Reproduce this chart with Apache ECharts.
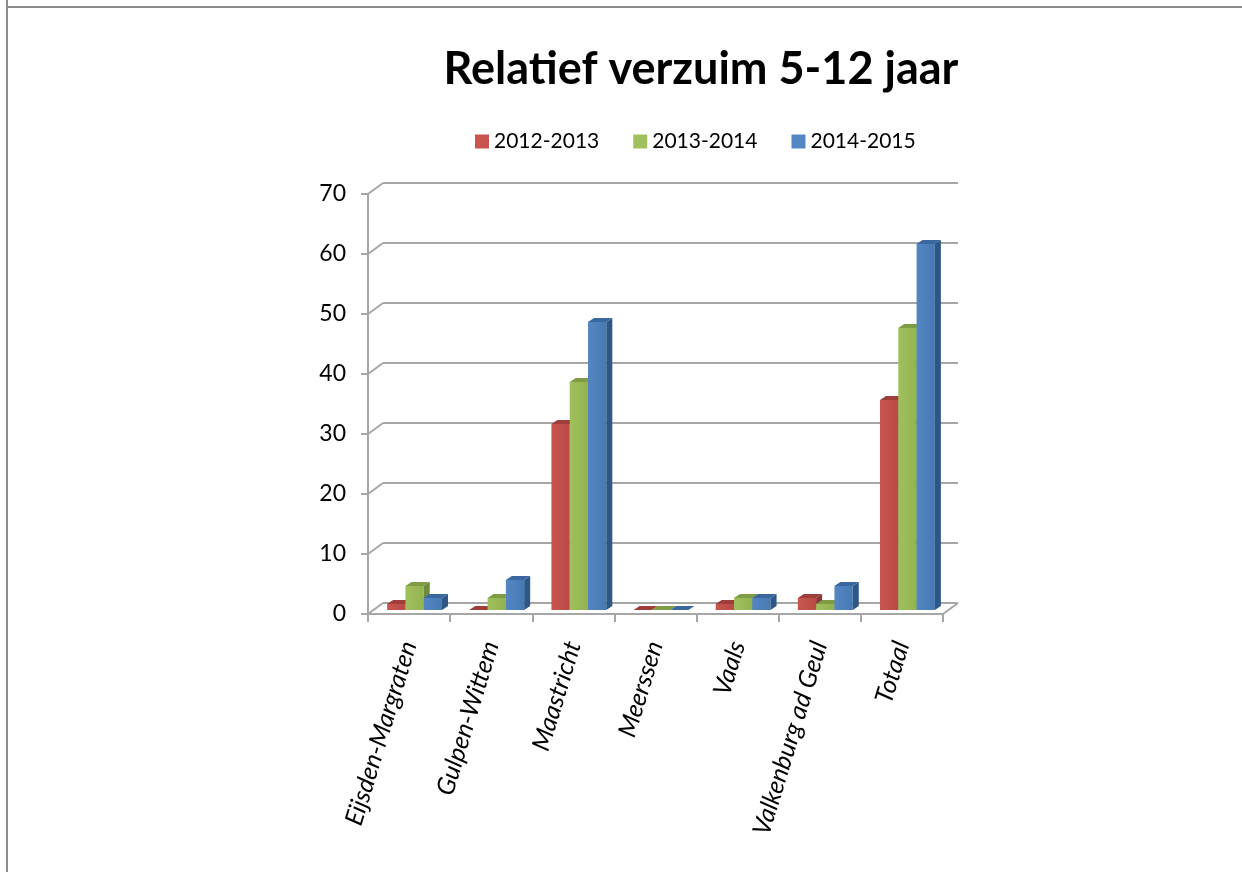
<!doctype html>
<html>
<head>
    <meta charset="UTF-8">
    <title>Relatief verzuim 5-12 jaar</title>
    <script src="https://cdn.jsdelivr.net/npm/echarts@6/dist/echarts.min.js"></script>
    <style>
        html, body { margin: 0; padding: 0; background: #fff; }
        #main { width: 1242px; height: 872px; }
    </style>
</head>
<body>
<div id="main"></div>
<script type="text/javascript">
    // data
    var gemeenten = ['Eijsden-Margraten', 'Gulpen-Wittem', 'Maastricht', 'Meerssen', 'Vaals', 'Valkenburg ad Geul', 'Totaal'];
    var jaren = ['2012-2013', '2013-2014', '2014-2015'];
    var v1213 = [1, 0, 31, 0, 1, 2, 35];
    var v1314 = [4, 2, 38, 0, 2, 1, 47];
    var v1415 = [2, 5, 48, 0, 2, 4, 61];
    var yTicks = [0, 10, 20, 30, 40, 50, 60, 70];

    var waarden = [v1213, v1314, v1415];
    // voorkant (licht, donker), zijkant, bovenkant
    var kleuren = [
        ['#C8554F', '#BA4A47', '#8A3532', '#9E3D3A'],
        ['#A0C05E', '#93B251', '#6E8A3A', '#7F9C45'],
        ['#5486C2', '#4779B5', '#2D5787', '#3A67A0']
    ];
    var gridKleur = '#a6a6a6';

    var myChart = echarts.init(document.getElementById('main'));

    var barW = 18.3;   // breedte van een staaf
    var depthX = 6, depthY = -4;  // diepte van de staaf
    var shiftX = 5.5, shiftY = -4; // staven staan iets naar achteren

    function barRenderer(s) {
        return function (params, api) {
            var cat = api.value(0);
            var val = api.value(1);
            var base = api.coord([cat, 0]);
            var top = api.coord([cat, val]);
            var x0 = base[0] - 1.5 * barW + s * barW + shiftX;
            var y0 = base[1] + shiftY;
            var y1 = top[1] + shiftY;
            var c = kleuren[s];
            var children = [];
            if (y0 - y1 > 0) {
                children.push({
                    type: 'rect',
                    shape: { x: x0, y: y1, width: barW, height: y0 - y1 },
                    style: {
                        fill: new echarts.graphic.LinearGradient(0, 0, 1, 0, [
                            { offset: 0, color: c[0] },
                            { offset: 1, color: c[1] }
                        ])
                    }
                });
            }
            children.push({
                type: 'polygon',
                shape: { points: [[x0 + barW, y0], [x0 + barW + depthX, y0 + depthY], [x0 + barW + depthX, y1 + depthY], [x0 + barW, y1]] },
                style: { fill: c[2] }
            });
            children.push({
                type: 'polygon',
                shape: { points: [[x0, y1], [x0 + depthX, y1 + depthY], [x0 + barW + depthX, y1 + depthY], [x0 + barW, y1]] },
                style: { fill: c[3] }
            });
            return { type: 'group', children: children };
        };
    }

    // schuine lijntjes tussen voor-as en achterwand
    function diagRenderer(params, api) {
        var v = api.value(0);
        var p = api.coord([0, v]);
        var left = p[0] - api.size([1, 0])[0] / 2;
        var children = [{
            type: 'line',
            shape: { x1: left, y1: p[1], x2: left + 15, y2: p[1] - 11 },
            style: { stroke: gridKleur, lineWidth: 2 }
        }];
        if (v === 0) {
            var r = api.coord([gemeenten.length - 1, 0]);
            var right = r[0] + api.size([1, 0])[0] / 2;
            children.push({
                type: 'line',
                shape: { x1: right, y1: r[1], x2: right + 15, y2: r[1] - 11 },
                style: { stroke: gridKleur, lineWidth: 2 }
            });
        }
        return { type: 'group', children: children };
    }

    var series = [];
    for (var s = 0; s < 3; s++) {
        series.push({
            name: jaren[s],
            type: 'custom',
            xAxisIndex: 0,
            yAxisIndex: 0,
            renderItem: barRenderer(s),
            itemStyle: { color: kleuren[s][0] },
            data: waarden[s].map(function (v, i) { return [i, v]; }),
            z: 5
        });
    }
    series.push({
        type: 'custom',
        xAxisIndex: 0,
        yAxisIndex: 0,
        renderItem: diagRenderer,
        data: yTicks.map(function (v) { return [v]; }),
        encode: { y: 0 },
        silent: true,
        z: 1
    });

    var option = {
        animation: false,
        backgroundColor: '#fff',
        textStyle: { fontFamily: 'Lato, "Open Sans", sans-serif' },
        title: {
            text: 'Relatief verzuim 5-12 jaar',
            left: 696,
            textAlign: 'center',
            top: 42,
            textStyle: { fontSize: 45, fontWeight: 'bold', color: '#000', fontFamily: 'Lato, "Open Sans", sans-serif' }
        },
        legend: {
            data: jaren,
            left: 475,
            top: 131,
            padding: 0,
            icon: 'rect',
            itemWidth: 14,
            itemHeight: 14,
            itemGap: 34,
            textStyle: { fontSize: 21, color: '#000' }
        },
        graphic: [
            { type: 'line', shape: { x1: 7, y1: 0, x2: 7, y2: 872 }, style: { stroke: '#8c8c8c', lineWidth: 2 } },
            { type: 'line', shape: { x1: 6, y1: 7, x2: 1242, y2: 7 }, style: { stroke: '#8c8c8c', lineWidth: 2 } }
        ],
        grid: [
            { left: 368, right: 299, top: 194, bottom: 258 },
            { left: 383, right: 284, top: 183, bottom: 269 }
        ],
        xAxis: [
            {
                type: 'category',
                gridIndex: 0,
                data: gemeenten,
                axisLine: { lineStyle: { color: gridKleur, width: 2 } },
                axisTick: { show: true, length: 8, lineStyle: { color: gridKleur, width: 2 } },
                axisLabel: {
                    rotate: 73,
                    margin: 28,
                    fontSize: 25,
                    fontStyle: 'italic',
                    color: '#000',
                    interval: 0
                },
                z: 3
            },
            {
                type: 'category',
                gridIndex: 1,
                data: gemeenten,
                show: false
            }
        ],
        yAxis: [
            {
                type: 'value',
                gridIndex: 0,
                min: 0,
                max: 70,
                interval: 10,
                axisLine: { show: true, lineStyle: { color: gridKleur, width: 2 } },
                axisTick: { show: true, length: 7, lineStyle: { color: gridKleur, width: 2 } },
                axisLabel: { fontSize: 23, color: '#000', margin: 22 },
                splitLine: { show: false },
                z: 3
            },
            {
                type: 'value',
                gridIndex: 1,
                min: 0,
                max: 70,
                interval: 10,
                axisLine: { show: false },
                axisTick: { show: false },
                axisLabel: { show: false },
                splitLine: { show: true, lineStyle: { color: gridKleur, width: 2 } }
            }
        ],
        series: series
    };
    myChart.setOption(option);
</script>
</body>
</html>
